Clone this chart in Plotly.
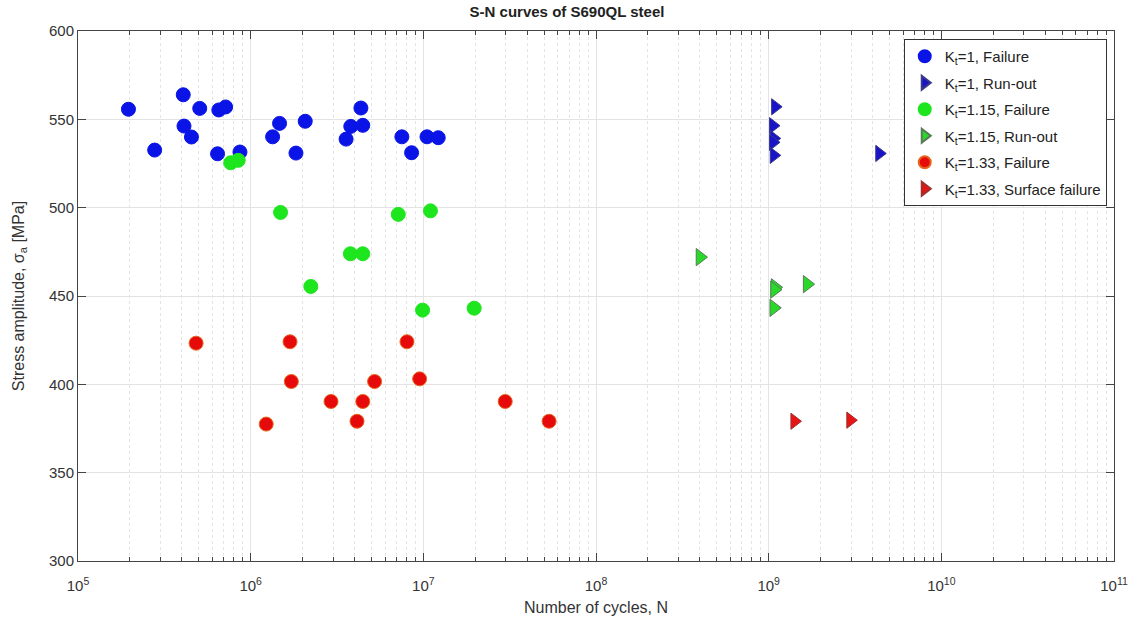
import plotly.graph_objects as go

# Kt = 1
kt1_fail_N = [1.96e5, 2.78e5, 4.07e5, 4.11e5, 4.54e5, 5.07e5, 6.54e5, 7.16e5, 6.43e5, 8.67e5,
              1.34e6, 1.47e6, 1.83e6, 2.07e6, 3.57e6, 3.80e6, 4.35e6, 4.46e6, 7.51e6, 8.55e6,
              1.05e7, 1.22e7]
kt1_fail_S = [555.7, 532.6, 563.9, 546.2, 540.0, 556.2, 555.3, 557.0, 530.5, 531.5,
              540.1, 547.7, 530.9, 548.9, 538.8, 546.0, 556.4, 546.6, 540.1, 531.1,
              540.1, 539.6]
kt1_run_N = [1.09e9, 1.06e9, 1.07e9, 1.06e9, 1.07e9, 4.37e9]
kt1_run_S = [557.1, 546.4, 539.2, 537.0, 529.6, 530.7]

# Kt = 1.15
kt115_fail_N = [7.66e5, 8.47e5, 1.49e6, 7.16e6, 1.10e7, 3.78e6, 4.46e6, 2.23e6, 9.9e6, 1.97e7]
kt115_fail_S = [525.4, 526.8, 497.3, 496.2, 498.2, 473.9, 473.9, 455.4, 442.0, 443.1]
kt115_run_N = [4.0e8, 1.09e9, 1.08e9, 1.07e9, 1.67e9]
kt115_run_S = [472.0, 454.9, 453.6, 443.3, 456.7]

# Kt = 1.33
kt133_fail_N = [4.83e5, 1.69e6, 8.04e6, 1.72e6, 5.22e6, 9.52e6, 2.92e6, 4.46e6, 2.98e7,
                1.23e6, 4.13e6, 5.35e7]
kt133_fail_S = [423.3, 424.1, 424.1, 401.6, 401.6, 403.1, 390.3, 390.3, 390.3,
                377.5, 379.1, 379.1]
kt133_surf_N = [1.41e9, 2.97e9]
kt133_surf_S = [379.1, 379.7]

x_decades = [5, 6, 7, 8, 9, 10, 11]
x_tick_vals = [10.0 ** d for d in x_decades]
x_tick_text = ["10<sup>%d</sup>" % d for d in x_decades]
x_minor_vals = [m * 10.0 ** d for d in x_decades[:-1] for m in range(2, 10)]
y_tick_vals = [300, 350, 400, 450, 500, 550, 600]

fig = go.Figure()

def add(xs, ys, name, symbol, color, line_color, size, group):
    fig.add_trace(go.Scatter(
        x=xs, y=ys, mode="markers", name=name, legendgroup=group,
        marker=dict(symbol=symbol, color=color, size=size,
                    line=dict(color=line_color, width=1)),
    ))

add(kt1_fail_N, kt1_fail_S, "K<sub>t</sub>=1, Failure", "circle", "#0a14e6", "#0a14e6", 14, "a")
add(kt1_run_N, kt1_run_S, "K<sub>t</sub>=1, Run-out", "triangle-right", "#1a14c8", "#3a3a8a", 14, "b")
add(kt115_fail_N, kt115_fail_S, "K<sub>t</sub>=1.15, Failure", "circle", "#1ee61e", "#1ee61e", 14, "c")
add(kt115_run_N, kt115_run_S, "K<sub>t</sub>=1.15, Run-out", "triangle-right", "#2ad82a", "#5a7a5a", 15, "d")
add(kt133_fail_N, kt133_fail_S, "K<sub>t</sub>=1.33, Failure", "circle", "#e60a0a", "#e6641e", 14, "e")
add(kt133_surf_N, kt133_surf_S, "K<sub>t</sub>=1.33, Surface failure", "triangle-right", "#e61414", "#a03030", 14, "f")

fam = "Liberation Sans, Arial, sans-serif"
axis_font = dict(family=fam, size=15, color="#333333")

fig.update_layout(
    width=1134, height=621,
    margin=dict(l=78, r=20, t=31, b=60),
    plot_bgcolor="white", paper_bgcolor="white",
    title=dict(text="<b>S-N curves of S690QL steel</b>", x=0.5, xanchor="center",
               y=0.99, yanchor="top",
               font=dict(family=fam, size=15, color="#222222")),
    font=dict(family=fam, color="#333333"),
    legend=dict(x=0.993, y=0.985, xanchor="right", yanchor="top",
                bgcolor="white", bordercolor="#333333", borderwidth=1,
                font=dict(size=15, color="#222222"), itemsizing="constant",
                traceorder="grouped", tracegroupgap=4),
    xaxis=dict(type="log", range=[5, 11], tickvals=x_tick_vals, ticktext=x_tick_text,
               automargin=False,
               showgrid=True, gridcolor="#e3e3e3", gridwidth=1,
               ticks="inside", ticklen=8, tickcolor="#444444",
               showline=True, linecolor="#444444", linewidth=1, mirror="ticks",
               tickfont=dict(family=fam, size=15, color="#333333"), zeroline=False,
               ticklabeloverflow="allow", ticklabelstandoff=11,
               minor=dict(tickvals=x_minor_vals, ticks="inside", ticklen=4, tickcolor="#444444",
                          showgrid=True, gridcolor="#e4e4e4", griddash="dot", gridwidth=1),
               title=dict(text="Number of cycles, N", font=dict(size=16, color="#333333"), standoff=8)),
    yaxis=dict(range=[300, 600], tickvals=y_tick_vals,
               automargin=False,
               showgrid=True, gridcolor="#e3e3e3", gridwidth=1,
               ticks="inside", ticklen=8, tickcolor="#444444",
               showline=True, linecolor="#444444", linewidth=1, mirror="ticks",
               tickfont=axis_font, zeroline=False,
               title=dict(text="Stress amplitude, σ<sub>a</sub> [MPa]", font=dict(size=16, color="#333333"), standoff=20)),
)

fig.write_html("out.html", config={"displayModeBar": False},
               post_script="document.body.style.margin='0px';")
